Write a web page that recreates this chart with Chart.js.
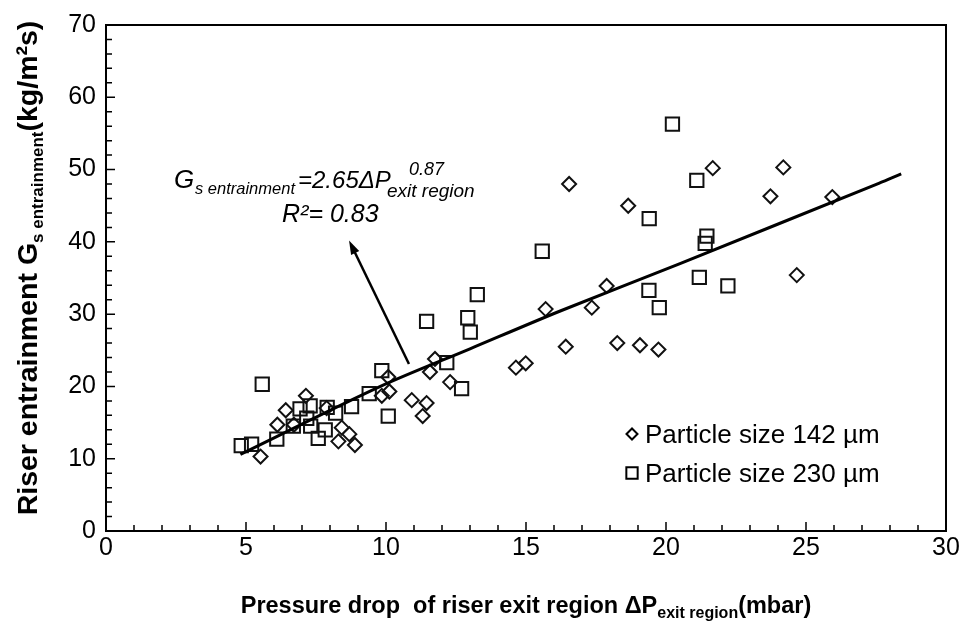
<!DOCTYPE html>
<html>
<head>
<meta charset="utf-8">
<script src="https://cdn.jsdelivr.net/npm/chart.js@4.4.0/dist/chart.umd.min.js"></script>
<style>
  html, body { margin: 0; padding: 0; background: #fff; }
  #wrap { width: 963px; height: 623px; }
</style>
</head>
<body>
<div id="wrap"><canvas id="gsChart" width="963" height="623"></canvas></div>
<script>
// Particle size 142 um: pressure drop (mbar) and entrainment flux (kg/m2s)
const dp142 = [16.54, 18.65, 21.67, 24.19, 23.73, 25.94, 24.67, 15.70, 17.35, 17.88,
               16.42, 18.26, 19.07, 19.73, 14.64, 14.99, 11.75, 11.57, 12.29, 10.08,
               10.12, 9.85, 10.92, 11.45, 11.31, 7.14, 6.42, 6.12, 6.71, 5.52,
               7.88, 8.42, 8.69, 8.30, 8.89];
const gs142 = [48.0, 45.0, 50.2, 50.3, 46.3, 46.2, 35.4, 30.7, 30.9, 33.9,
               25.5, 26.0, 25.7, 25.1, 22.6, 23.2, 23.8, 22.0, 20.6, 21.3,
               19.3, 18.7, 18.1, 17.7, 15.9, 18.7, 16.7, 14.7, 14.7, 10.3,
               17.0, 14.3, 13.4, 12.4, 11.9];

// Particle size 230 um
const dp230 = [20.23, 21.10, 19.40, 21.46, 21.40, 21.19, 22.21, 19.39, 19.76, 15.58,
               13.26, 11.45, 12.92, 13.01, 12.17, 12.70, 5.58, 9.85, 10.08, 9.40,
               8.77, 8.20, 7.90, 7.83, 7.58, 7.29, 6.93, 7.17, 7.31, 6.69,
               6.10, 5.20, 4.83];
const gs230 = [56.3, 48.5, 43.2, 40.8, 39.8, 35.1, 33.9, 33.3, 30.9, 38.7,
               32.7, 29.0, 29.5, 27.5, 23.3, 19.7, 20.3, 22.2, 15.9, 19.0,
               17.2, 16.3, 17.1, 14.0, 12.8, 17.3, 16.9, 15.6, 14.5, 14.5,
               12.7, 12.0, 11.8];

// power-law fit, sampled along the curve
const fitDp = [4.8, 9.8, 13.0, 16.2, 20.5, 27.6, 28.4];
const fitGs = [10.6, 20.0, 25.2, 30.4, 37.0, 48.1, 49.4];

const xTicks = [0, 5, 10, 15, 20, 25, 30];
const yTicks = [0, 10, 20, 30, 40, 50, 60, 70];

const legendLabels = ['Particle size 142 \u00b5m', 'Particle size 230 \u00b5m'];

const FONT = "'Liberation Sans', Arial, sans-serif";

function pts(xs, ys) {
    return xs.map((x, i) => ({ x: x, y: ys[i] }));
}

// draws a row of text pieces (sub/superscripts) one after another
function drawRuns(ctx, runs, x, y, align) {
    let total = 0;
    runs.forEach(r => {
        ctx.font = r.font;
        r.w = ctx.measureText(r.text).width;
        total += r.w;
    });
    let cx = align === 'center' ? x - total / 2 : x;
    runs.forEach(r => {
        ctx.font = r.font;
        ctx.fillText(r.text, cx, y + (r.dy || 0));
        cx += r.w;
    });
}

const decorPlugin = {
    id: 'decor',
    afterDatasetsDraw(chart) {
        const ctx = chart.ctx;
        const a = chart.chartArea;
        const xs = chart.scales.x;
        const ys = chart.scales.y;

        ctx.save();
        ctx.strokeStyle = '#000';
        ctx.fillStyle = '#000';

        // frame
        ctx.lineWidth = 2;
        ctx.strokeRect(a.left, a.top, a.right - a.left, a.bottom - a.top);

        // inward ticks
        ctx.lineWidth = 1.5;
        ctx.beginPath();
        for (let v = 0; v <= 30; v += 1) {
            const px = xs.getPixelForValue(v);
            const len = v % 5 === 0 ? 9 : 6;
            ctx.moveTo(px, a.bottom);
            ctx.lineTo(px, a.bottom - len);
        }
        for (let v = 0; v <= 70; v += 2) {
            const py = ys.getPixelForValue(v);
            const len = v % 10 === 0 ? 9 : 6;
            ctx.moveTo(a.left, py);
            ctx.lineTo(a.left + len, py);
        }
        ctx.stroke();

        // arrow pointing to the fit equation
        const x0 = xs.getPixelForValue(10.82), y0 = ys.getPixelForValue(23.1);
        const x1 = xs.getPixelForValue(8.68), y1 = ys.getPixelForValue(40.2);
        const ang = Math.atan2(y1 - y0, x1 - x0);
        const head = 14, half = 4.5;
        ctx.lineWidth = 2.5;
        ctx.beginPath();
        ctx.moveTo(x0, y0);
        ctx.lineTo(x1 - Math.cos(ang) * head * 0.8, y1 - Math.sin(ang) * head * 0.8);
        ctx.stroke();
        ctx.beginPath();
        ctx.moveTo(x1, y1);
        ctx.lineTo(x1 - Math.cos(ang) * head - Math.sin(ang) * half,
                   y1 - Math.sin(ang) * head + Math.cos(ang) * half);
        ctx.lineTo(x1 - Math.cos(ang) * head + Math.sin(ang) * half,
                   y1 - Math.sin(ang) * head - Math.cos(ang) * half);
        ctx.closePath();
        ctx.fill();

        // fit equation
        ctx.textAlign = 'left';
        ctx.textBaseline = 'alphabetic';
        ctx.font = 'italic 26px ' + FONT;
        ctx.fillText('G', 174, 188);
        ctx.font = 'italic 16.5px ' + FONT;
        ctx.fillText('s entrainment', 195, 194);
        ctx.font = 'italic 24px ' + FONT;
        ctx.fillText('=2.65\u0394P', 298, 188);
        ctx.font = 'italic 18px ' + FONT;
        ctx.fillText('0.87', 409, 175);
        ctx.font = 'italic 19px ' + FONT;
        ctx.fillText('exit region', 387, 197);
        ctx.font = 'italic 25px ' + FONT;
        ctx.fillText('R\u00b2= 0.83', 282, 222);

        // legend
        const legendStyles = [
            { pointStyle: 'rectRot', radius: 5.5 },
            { pointStyle: 'rect', radius: 8 }
        ];
        legendLabels.forEach((label, i) => {
            const cy = 434 + i * 39;
            ctx.fillStyle = 'rgba(0,0,0,0)';
            ctx.strokeStyle = '#000';
            ctx.lineWidth = 2;
            Chart.helpers.drawPoint(ctx, {
                pointStyle: legendStyles[i].pointStyle,
                radius: legendStyles[i].radius,
                rotation: 0,
                borderWidth: 2
            }, 632, cy);
            ctx.fillStyle = '#000';
            ctx.font = '26px ' + FONT;
            ctx.fillText(label, 645, cy + 9);
        });

        // axis titles
        ctx.fillStyle = '#000';
        drawRuns(ctx, [
            { text: 'Pressure drop  of riser exit region \u0394P', font: 'bold 23.5px ' + FONT },
            { text: 'exit region', font: 'bold 16px ' + FONT, dy: 5 },
            { text: '(mbar)', font: 'bold 23.5px ' + FONT }
        ], 526, 613, 'center');

        ctx.translate(37, 268);
        ctx.rotate(-Math.PI / 2);
        drawRuns(ctx, [
            { text: 'Riser entrainment G', font: 'bold 28.5px ' + FONT },
            { text: 's entrainment', font: 'bold 17px ' + FONT, dy: 6 },
            { text: '(kg/m\u00b2s)', font: 'bold 28.5px ' + FONT }
        ], 0, 0, 'center');

        ctx.restore();
    }
};

new Chart(document.getElementById('gsChart'), {
    type: 'scatter',
    data: {
        datasets: [
            {
                label: 'fit',
                data: pts(fitDp, fitGs),
                showLine: true,
                borderColor: '#000',
                borderWidth: 3,
                pointRadius: 0,
                tension: 0.3
            },
            {
                label: legendLabels[0],
                data: pts(dp142, gs142),
                pointStyle: 'rectRot',
                pointRadius: 7,
                pointBorderWidth: 2,
                pointBorderColor: '#111',
                pointBackgroundColor: 'rgba(0,0,0,0)'
            },
            {
                label: legendLabels[1],
                data: pts(dp230, gs230),
                pointStyle: 'rect',
                pointRadius: 9.4,
                pointBorderWidth: 2,
                pointBorderColor: '#111',
                pointBackgroundColor: 'rgba(0,0,0,0)'
            }
        ]
    },
    options: {
        responsive: false,
        animation: false,
        layout: { padding: { top: 19, right: 17, left: 0, bottom: 0 } },
        plugins: {
            legend: { display: false },
            tooltip: { enabled: false }
        },
        scales: {
            x: {
                type: 'linear',
                min: 0,
                max: 30,
                afterFit: s => { s.height = 92; },
                afterBuildTicks: s => { s.ticks = xTicks.map(v => ({ value: v })); },
                grid: { display: false, drawTicks: false },
                border: { display: false },
                ticks: { padding: 2, color: '#000', maxRotation: 0, font: { family: FONT, size: 25 } }
            },
            y: {
                type: 'linear',
                min: 0,
                max: 70,
                afterFit: s => { s.width = 106; },
                afterBuildTicks: s => { s.ticks = yTicks.map(v => ({ value: v })); },
                grid: { display: false, drawTicks: false },
                border: { display: false },
                ticks: { padding: 10, color: '#000', font: { family: FONT, size: 25 } }
            }
        }
    },
    plugins: [decorPlugin]
});
</script>
</body>
</html>
